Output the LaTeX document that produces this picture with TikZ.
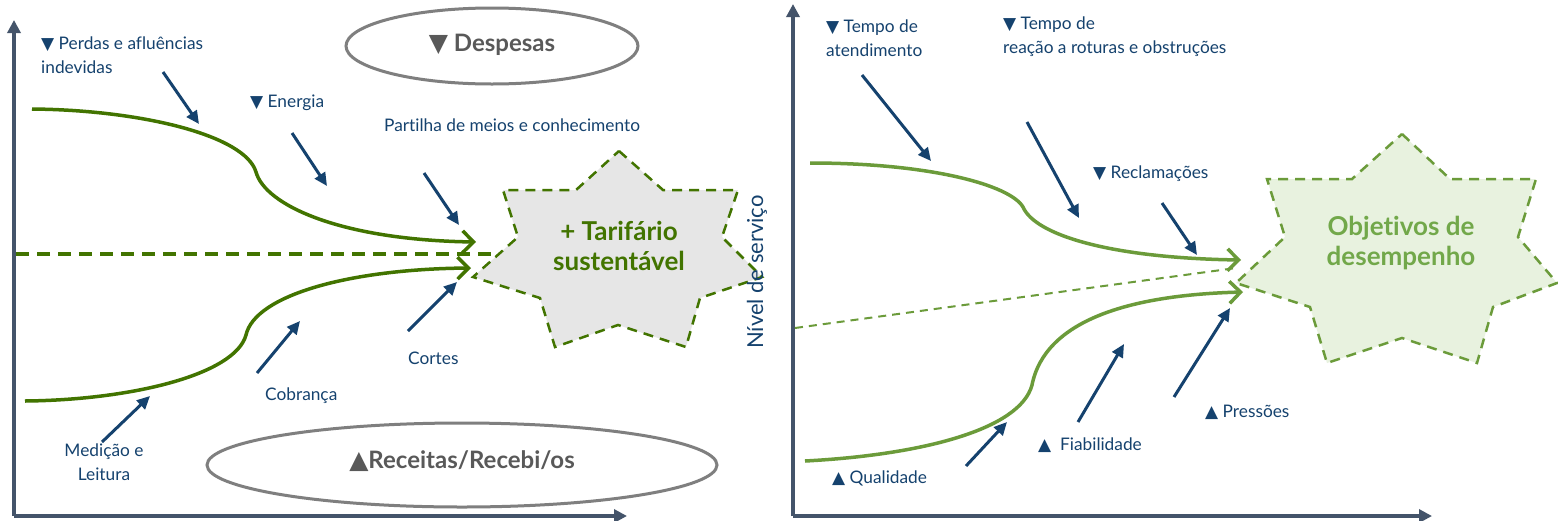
\documentclass[tikz,border=0pt]{standalone}
\usepackage{fontspec}
\setmainfont[Ligatures=NoCommon]{Lato}
\newfontfamily\symf{DejaVu Sans}
\usetikzlibrary{arrows.meta}
\definecolor{navy}{HTML}{15426E}
\definecolor{axisc}{HTML}{44546A}
\definecolor{dgreen}{HTML}{427400}
\definecolor{lgreen}{HTML}{6B9B3A}
\definecolor{lgreentext}{HTML}{72A84A}
\definecolor{starone}{HTML}{E6E6E6}
\definecolor{startwo}{HTML}{E8F2DF}
\definecolor{graytext}{HTML}{595959}
\definecolor{grayline}{HTML}{7F7F7F}
\newcommand\tdn{{\symf\fontsize{17}{17}\selectfont ▼}}
\newcommand\tup{{\symf\fontsize{17}{17}\selectfont ▲}}
\newcommand\bdn{{\symf\fontsize{25}{25}\selectfont ▼}}
\newcommand\bup{{\symf\fontsize{25}{25}\selectfont ▲}}
\tikzset{
  axisline/.style={draw=axisc, line width=4pt, -{Triangle[length=13pt,width=13pt]}},
  navyarrow/.style={draw=navy, line width=3pt, -{Triangle[length=13pt,width=12pt]}},
  dcurve/.style={draw=dgreen, line width=3.5pt, -{Straight Barb[length=11pt,width=22pt]}},
  lcurve/.style={draw=lgreen, line width=3.5pt, -{Straight Barb[length=11pt,width=22pt]}},
  lbl/.style={text=navy, inner sep=0pt, font=\fontsize{17.3}{24}\selectfont, align=left},
  bigbold/.style={inner sep=0pt, font=\fontsize{24}{30}\selectfont\bfseries, align=center},
  starbold/.style={inner sep=0pt, font=\fontsize{26}{30}\selectfont\bfseries, align=center},
  ell/.style={draw=grayline, line width=3pt},
  stardash/.style={line width=2.5pt, dash pattern=on 10pt off 7pt},
}
\begin{document}
\begin{tikzpicture}[x=1pt,y=-1pt]
\useasboundingbox (0,0) rectangle (1558,520);
\fill[white] (0,0) rectangle (1558,520);

% ---------- stars ----------
\draw[stardash, draw=dgreen, fill=starone] (619,151) -- (663,190) -- (738,190) -- (722,237) -- (762,277) -- (700,298) -- (686,347) -- (618,325) -- (555,347) -- (540,298) -- (473,277) -- (518,237) -- (503,190) -- (576,190) -- cycle;
\draw[stardash, draw=lgreen, fill=startwo] (1402,134) -- (1450,179) -- (1536,179) -- (1518,237) -- (1557,283) -- (1493,307) -- (1477,363) -- (1402,338) -- (1327,363) -- (1310,307) -- (1236,283) -- (1285,237) -- (1267,179) -- (1352,179) -- cycle;
\node[starbold, text=dgreen] (tarif) at (619,246) {+ Tarifário\\sustentável};
\node[starbold, text=lgreentext] (objet) at (1401,243) {Objetivos de\\desempenho};

% ---------- y-axis label ----------
\node[text=navy, inner sep=0pt, font=\fontsize{22}{22}\selectfont, rotate=90] (nivel) at (757,272) {Nível de serviço};

% ---------- axes ----------
\coordinate (lo) at (14,516);
\coordinate (ly) at (14,20);
\coordinate (lx) at (627,516);
\coordinate (ro) at (793,516);
\coordinate (ry) at (793,4);
\coordinate (rx) at (1432,516);
\draw[axisline] (lo) -- (ly);
\draw[axisline] (lo) -- (lx);
\draw[axisline] (ro) -- (ry);
\draw[axisline] (ro) -- (rx);

% ---------- ellipses ----------
\draw[ell] (492,46) ellipse[x radius=146, y radius=38];
\node[bigbold, text=graytext] (desp) at (492,45) {\bdn\ Despesas};
\draw[ell] (462,465) ellipse[x radius=255, y radius=42];
\node[bigbold, text=graytext] (rec) at (462,461) {\bup Receitas/Recebi/os};

% ---------- left panel ----------
\coordinate (lu0) at (32,109);
\coordinate (lu1) at (256,172);
\coordinate (lu2) at (476,242);
\draw[dcurve] (lu0) .. controls (140,110) and (245,135) .. (lu1) .. controls (265,205) and (340,240) .. (lu2);
\coordinate (ll0) at (25,401);
\coordinate (ll1) at (246,335);
\coordinate (ll2) at (471,268);
\draw[dcurve] (ll0) .. controls (130,400) and (235,375) .. (ll1) .. controls (255,295) and (350,269) .. (ll2);
\coordinate (ld0) at (16,254);
\coordinate (ld1) at (492,254);
\draw[draw=dgreen, line width=3.5pt, dash pattern=on 13pt off 8pt] (ld0) -- (ld1);

\coordinate (a1s) at (163,72);  \coordinate (a1e) at (199,124);
\coordinate (a2s) at (292,133); \coordinate (a2e) at (327,186);
\coordinate (a3s) at (424,173); \coordinate (a3e) at (459,225);
\coordinate (a4s) at (102,442); \coordinate (a4e) at (150,396);
\coordinate (a5s) at (257,373); \coordinate (a5e) at (300,321);
\coordinate (a6s) at (408,331); \coordinate (a6e) at (457,282);
\foreach \i in {1,...,6} {\draw[navyarrow] (a\i s) -- (a\i e);}

\node[lbl, anchor=base west] (perdas) at (41,73) {\tdn\ Perdas e afluências\\indevidas};
\node[lbl, anchor=base west] (energ) at (250,107) {\tdn\ Energia};
\node[lbl, anchor=base west] (part) at (384,131) {Partilha de meios e conhecimento};
\node[lbl, anchor=base, align=center] (medic) at (104,480) {Medição e\\Leitura};
\node[lbl, anchor=base west] (cobr) at (265,400) {Cobrança};
\node[lbl, anchor=base west] (cort) at (408,364) {Cortes};

% ---------- right panel ----------
\coordinate (ru0) at (810,163);
\coordinate (ru1) at (1023,207);
\coordinate (ru2) at (1241,260);
\draw[lcurve] (ru0) .. controls (930,163) and (1010,185) .. (ru1) .. controls (1035,235) and (1110,258) .. (ru2);
\coordinate (rl0) at (805,461);
\coordinate (rl1) at (1032,385);
\coordinate (rl2) at (1243,292);
\draw[lcurve] (rl0) .. controls (920,455) and (1020,430) .. (rl1) .. controls (1045,320) and (1130,295) .. (rl2);
\coordinate (rd0) at (795,328);
\coordinate (rd1) at (1236,268);
\draw[draw=lgreen, line width=2pt, dash pattern=on 8pt off 6pt] (rd0) -- (rd1);

\coordinate (b1s) at (862,75);   \coordinate (b1e) at (931,161);
\coordinate (b2s) at (1027,122); \coordinate (b2e) at (1079,218);
\coordinate (b3s) at (1162,203); \coordinate (b3e) at (1197,255);
\coordinate (b4s) at (966,466);  \coordinate (b4e) at (1007,422);
\coordinate (b5s) at (1078,422); \coordinate (b5e) at (1124,344);
\coordinate (b6s) at (1174,397); \coordinate (b6e) at (1230,308);
\foreach \i in {1,...,6} {\draw[navyarrow] (b\i s) -- (b\i e);}

\node[lbl, anchor=base west] (tempo1) at (826,56) {\tdn\ Tempo de\\atendimento};
\node[lbl, anchor=base west] (tempo2) at (1003,53) {\tdn\ Tempo de\\reação a roturas e obstruções};
\node[lbl, anchor=base west] (recl) at (1093,178) {\tdn\ Reclamações};
\node[lbl, anchor=base west] (qual) at (832,483) {\tup\ Qualidade};
\node[lbl, anchor=base west] (fiab) at (1038,450) {\tup\ \ Fiabilidade};
\node[lbl, anchor=base west] (press) at (1205,417) {\tup\ Pressões};
\end{tikzpicture}
\end{document}
